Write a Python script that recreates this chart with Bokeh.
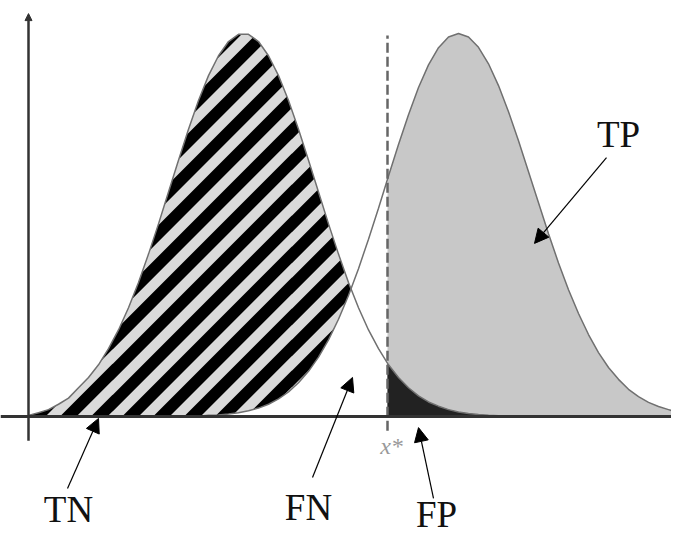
import numpy as np
from bokeh.plotting import figure
from bokeh.models import Range1d, Span, Arrow, NormalHead, ColumnDataSource
from bokeh.embed import file_html
from bokeh.resources import INLINE
from bokeh.core.properties import value

# ---- data (score axis, normalized densities) ----
score = list(range(0, 66))
neg_density = [0.003, 0.010, 0.018, 0.032, 0.048, 0.075, 0.102, 0.135, 0.177, 0.226,
               0.284, 0.350, 0.424, 0.503, 0.586, 0.669, 0.750, 0.825, 0.890, 0.942,
               0.979, 0.998, 0.998, 0.979, 0.942, 0.890, 0.825, 0.750, 0.669, 0.586,
               0.503, 0.424, 0.350, 0.284, 0.226, 0.177, 0.135, 0.102, 0.075, 0.054,
               0.038, 0.027, 0.018, 0.012, 0.008, 0.005, 0.003, 0.002, 0.001, 0.0,
               0.0, 0.0, 0.0, 0.0, 0.0, 0.0, 0.0, 0.0, 0.0, 0.0,
               0.0, 0.0, 0.0, 0.0, 0.0, 0.0]
pos_density = [0.0, 0.0, 0.0, 0.0, 0.0, 0.0, 0.0, 0.0, 0.0, 0.0,
               0.0, 0.0, 0.0, 0.0, 0.0, 0.0, 0.0, 0.001, 0.003, 0.004,
               0.0065, 0.010, 0.015, 0.022, 0.032, 0.046, 0.064, 0.088, 0.118, 0.155,
               0.200, 0.254, 0.316, 0.386, 0.463, 0.544, 0.628, 0.710, 0.788, 0.859,
               0.918, 0.963, 0.991, 1.000, 0.991, 0.964, 0.921, 0.864, 0.796, 0.720,
               0.639, 0.558, 0.477, 0.401, 0.331, 0.269, 0.214, 0.167, 0.128, 0.097,
               0.071, 0.052, 0.037, 0.026, 0.018, 0.010]
threshold = 35.9
threshold_label = "x*"

region_labels = ["TN", "FN", "FP", "TP"]
label_x = [4.0, 28.0, 40.8, 59.0]
label_y = [-0.243, -0.238, -0.257, 0.736]
arrow_x_start = [3.9, 28.4, 40.5, 57.8]
arrow_y_start = [-0.188, -0.159, -0.214, 0.676]
arrow_x_end = [7.0, 32.4, 39.0, 50.6]
arrow_y_end = [-0.005, 0.102, -0.029, 0.452]

# ---- geometry ----
x = np.array(score, dtype=float)
neg = np.array(neg_density)
pos = np.array(pos_density)
neg_t = float(np.interp(threshold, x, neg))
pos_t = float(np.interp(threshold, x, pos))
left = x < threshold
right = x > threshold
xl = np.append(x[left], threshold)
negl = np.append(neg[left], neg_t)
posl = np.append(pos[left], pos_t)
xr = np.insert(x[right], 0, threshold)
negr = np.insert(neg[right], 0, neg_t)
posr = np.insert(pos[right], 0, pos_t)

X_RANGE = (-2.8, 64.3)
Y_RANGE = (-0.3133, 1.0862)
W, H = 671, 536
px_per_x = W / (X_RANGE[1] - X_RANGE[0])
px_per_y = H / (Y_RANGE[1] - Y_RANGE[0])

# 45-degree black stripes clipped to the area under the negative curve (x <= threshold)
period, thick, phase = 31.0, 16.5, 14.0
xd = np.linspace(0.0, threshold, 720)
top = np.interp(xd, x, neg)
ux = xd * px_per_x
kmin = int(np.floor((-ux.max() - phase) / period)) - 1
kmax = int(np.ceil((top.max() * px_per_y - phase) / period)) + 1
stripe_xs, stripe_ys = [], []
for k in range(kmin, kmax + 1):
    c = phase + k * period
    lo = np.maximum(0.0, (c + ux) / px_per_y)
    hi = np.minimum(top, (c + thick + ux) / px_per_y)
    idx = np.flatnonzero(hi > lo)
    if len(idx) == 0:
        continue
    for run in np.split(idx, np.flatnonzero(np.diff(idx) > 1) + 1):
        if len(run) < 2:
            continue
        stripe_xs.append(np.concatenate([xd[run], xd[run][::-1]]))
        stripe_ys.append(np.concatenate([hi[run], lo[run][::-1]]))

p = figure(width=W, height=H, output_backend="svg", toolbar_location=None,
           x_range=Range1d(*X_RANGE), y_range=Range1d(*Y_RANGE),
           min_border=0, x_axis_location=None, y_axis_location=None)
p.grid.visible = False
p.outline_line_color = None
p.background_fill_color = "white"

# TN (hatched) = area under negative curve left of threshold
p.varea(x=xl, y1=np.zeros_like(xl), y2=negl, fill_color="#dadada")
p.patches(stripe_xs, stripe_ys, fill_color="black", line_color=None)
# FN = area under positive curve left of threshold (white)
p.varea(x=xl, y1=np.zeros_like(xl), y2=posl, fill_color="white")
# TP = area under positive curve right of threshold
p.varea(x=xr, y1=np.zeros_like(xr), y2=posr, fill_color="#c8c8c8")
# FP = area under negative curve right of threshold
p.varea(x=xr, y1=np.zeros_like(xr), y2=negr, fill_color="#222222")

p.line(x, neg, line_color="#707070", line_width=1.5)
p.line(x, pos, line_color="#707070", line_width=1.5)

# axes
p.add_layout(Span(location=0, dimension="width", line_color="#333333", line_width=3))
p.add_layout(Arrow(end=NormalHead(size=7, fill_color="#333333", line_color="#333333"),
                   x_start=0, y_start=-0.063, x_end=0, y_end=1.052,
                   line_color="#333333", line_width=2.5))

# threshold
p.segment(x0=[threshold], y0=[-0.037], x1=[threshold], y1=[0.995],
          line_color="#666666", line_width=2.5, line_dash="10 4")
p.text(x=[threshold + 0.4], y=[-0.078], text=[threshold_label],
       text_font=value("Liberation Serif"), text_font_style="italic",
       text_font_size="24px", text_color="#999999",
       text_align="center", text_baseline="alphabetic")

# labels and arrows
src = ColumnDataSource(dict(xs=arrow_x_start, ys=arrow_y_start, xe=arrow_x_end, ye=arrow_y_end))
p.add_layout(Arrow(source=src, x_start="xs", y_start="ys", x_end="xe", y_end="ye",
                   line_color="black", line_width=1.2,
                   end=NormalHead(size=14, fill_color="black", line_color="black", line_width=1)))
p.text(x=label_x, y=label_y, text=region_labels,
       text_font=value("Liberation Serif"), text_font_size="37px", text_color="#111111",
       text_align="center", text_baseline="alphabetic")

open("out.html", "w").write(file_html(p, INLINE))
